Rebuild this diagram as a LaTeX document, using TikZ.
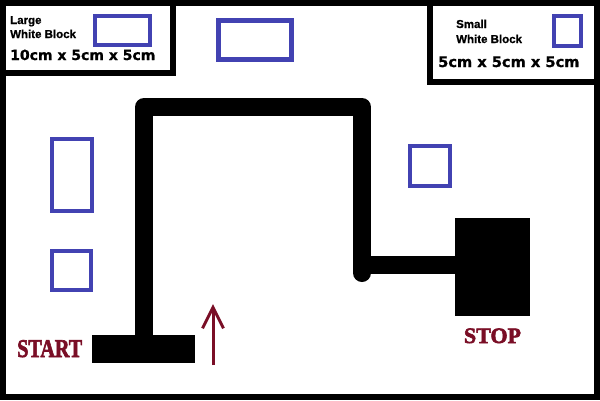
\documentclass[tikz,border=0pt]{standalone}
\usepackage{fontspec}
\usepackage{graphicx}
\setmainfont{Liberation Serif}
\newfontfamily\signfont[FakeBold=2.6]{Liberation Serif}
\newfontfamily\legendfont[FakeBold=0.8]{Liberation Sans}
\newfontfamily\sizefont[FakeBold=1]{DejaVu Sans}
\usetikzlibrary{arrows.meta}
\definecolor{blockblue}{RGB}{66,66,178}
\definecolor{signred}{RGB}{122,14,38}

\begin{document}
\begin{tikzpicture}[
		x=1pt,y=-1pt,
		block/.style={draw=blockblue,line width=4.5pt},
		track/.style={line width=18pt,line join=round},
		frame/.style={line width=6pt},
		legend/.style={anchor=base west,inner sep=0,font=\fontsize{11.5}{12}\selectfont\legendfont\bfseries},
		dims/.style={anchor=base west,inner sep=0,font=\fontsize{14}{15}\selectfont\sizefont\bfseries},
		sign/.style={inner sep=0,text=signred,font=\fontsize{21}{22}\selectfont\signfont\bfseries},
		pad/.style={fill=black,inner sep=0}]

		\useasboundingbox (0,0) rectangle (600,400);
		\fill[white] (0,0) rectangle (600,400);

		% outer frame and the two legend boxes
		\draw[frame] (3,3) rectangle (597,397);
		\draw[frame] (3,3) rectangle (173,73);
		\draw[frame] (429.5,3) rectangle (597,81.5);

		% legend texts
		\node[legend] (large) at (10,24) {Large};
		\node[legend] (largewb) at (10,38) {White Block};
		\node[dims] (largedim) at (10,60) {10cm x 5cm x 5cm};
		\node[legend] (small) at (456,28) {Small};
		\node[legend] (smallwb) at (456,43) {White Block};
		\node[dims,font=\fontsize{14.6}{15}\selectfont\sizefont\bfseries] (smalldim) at (438,67) {5cm x 5cm x 5cm};

		% blocks
		\draw[block] (95,16) rectangle (150,45);
		\draw[block] (554,16) rectangle (581,46);
		\draw[block] (218.5,20.5) rectangle (291.5,59.5);
		\draw[block] (52,139) rectangle (92,211);
		\draw[block] (52,251) rectangle (91,290);
		\draw[block] (410,146) rectangle (450,186);

		% start and stop pads
		\node[pad,minimum width=103pt,minimum height=28pt] (startpad) at (143.5,349) {};
		\node[pad,minimum width=75pt,minimum height=98pt] (stoppad) at (492.5,267) {};

		% track
		\coordinate (c1) at (144,107);
		\coordinate (c2) at (362,107);
		\coordinate (c3) at (362,273);
		\coordinate (c4) at (362,264.5);
		\draw[track,line cap=round] (startpad.center -| c1) -- (c1) -- (c2) -- (c3);
		\draw[track] (c4) -- (stoppad.center |- c4);

		% labels and direction
		\node[sign,anchor=base west] (start) at (17,357) {\scalebox{0.96}[1.22]{START}};
		\node[sign,anchor=base,font=\fontsize{22}{23}\selectfont\signfont\bfseries] (stop) at (492.5,343) {STOP};
		\coordinate (dirtail) at (213,365);
		\coordinate (dirhead) at (213,304);
		\draw[signred,line width=3pt,-{Straight Barb[length=21pt,width=21pt]}] (dirtail) -- (dirhead);

\end{tikzpicture}
\end{document}
